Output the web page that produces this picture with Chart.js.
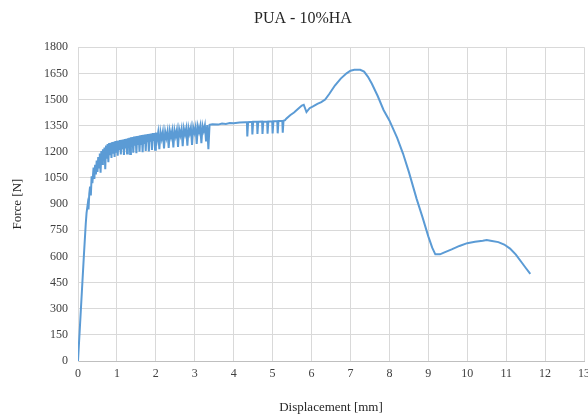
<!DOCTYPE html>
<html lang="en">
<head>
    <meta charset="UTF-8">
    <title>PUA - 10%HA</title>
    <script src="https://cdn.jsdelivr.net/npm/chart.js"></script>
    <style>
        body {
            margin: 0;
            padding: 0;
            overflow: hidden;
            background-color: #ffffff;
        }

        /* un poco más ancho que la ventana: el "13" queda cortado como en el original */
        #wrap {
            width: 596px;
            height: 415px;
        }
    </style>
</head>
<body>
    <div id="wrap"><canvas id="forceChart"></canvas></div>

    <script>
        // Desplazamiento [mm]
        const displacement = [
            0, 0.05, 0.1, 0.15, 0.2, 0.22, 0.25, 0.27, 0.29, 0.31, 0.33, 0.35, 0.37,
            0.40, 0.42, 0.44, 0.46, 0.48, 0.50, 0.52, 0.54, 0.56, 0.58,
            0.60, 0.62, 0.64, 0.66, 0.68, 0.70, 0.72, 0.74, 0.76, 0.78,
            0.80, 0.82, 0.84, 0.86, 0.88, 0.90, 0.92, 0.94, 0.96, 0.98,
            1.00, 1.02, 1.04, 1.06, 1.08, 1.10, 1.12, 1.14, 1.16, 1.18,
            1.20, 1.22, 1.24, 1.26, 1.28, 1.30, 1.32, 1.34, 1.36, 1.38,
            1.40, 1.42, 1.44, 1.46, 1.48, 1.50, 1.52, 1.54, 1.56, 1.58,
            1.60, 1.62, 1.64, 1.66, 1.68, 1.70, 1.72, 1.74, 1.76, 1.78,
            1.80, 1.82, 1.84, 1.86, 1.88, 1.90, 1.92, 1.94, 1.96, 1.98,
            2.00, 2.03, 2.06, 2.09, 2.12, 2.15, 2.18, 2.21, 2.24, 2.27,
            2.30, 2.33, 2.36, 2.39, 2.42, 2.45, 2.48, 2.51, 2.54, 2.57,
            2.60, 2.63, 2.66, 2.69, 2.72, 2.75, 2.78, 2.81, 2.84, 2.87,
            2.90, 2.93, 2.96, 2.99, 3.02, 3.05, 3.08, 3.11, 3.14, 3.17,
            3.20, 3.23, 3.26, 3.29, 3.32, 3.35, 3.38,
            3.45, 3.6, 3.7, 3.8, 3.9, 4.0, 4.15, 4.3,
            4.34, 4.35, 4.37, 4.47, 4.48, 4.50, 4.60, 4.61, 4.63,
            4.73, 4.74, 4.76, 4.86, 4.87, 4.89, 4.99, 5.00, 5.02,
            5.12, 5.13, 5.15, 5.25, 5.26, 5.28, 5.32,
            5.35, 5.45, 5.55, 5.65, 5.75, 5.8, 5.87, 5.95, 6.05, 6.15, 6.25, 6.35, 6.45, 6.6,
            6.75, 6.9, 7.0, 7.1, 7.25, 7.35, 7.45, 7.55, 7.7, 7.85, 8.0, 8.2, 8.35, 8.5, 8.7,
            8.85, 9.0, 9.1, 9.18, 9.3, 9.4, 9.6, 9.8, 10.0, 10.2, 10.4, 10.5, 10.6, 10.8, 10.95,
            11.1, 11.25, 11.4, 11.5, 11.62
        ];

        // Fuerza [N]
        const force = [
            0, 200, 400, 600, 790, 850, 900, 870, 960, 1000, 950, 1060, 1020,
            1110, 1045, 1125, 1070, 1150, 1085, 1170, 1110, 1190, 1080,
            1205, 1130, 1215, 1150, 1225, 1100, 1236, 1160, 1244, 1140,
            1250, 1180, 1252, 1165, 1256, 1195, 1258, 1170, 1261, 1200,
            1264, 1178, 1265, 1210, 1267, 1185, 1269, 1215, 1270, 1182,
            1273, 1220, 1275, 1190, 1278, 1225, 1280, 1188, 1283, 1230,
            1285, 1195, 1287, 1235, 1289, 1192, 1291, 1240, 1292, 1200,
            1294, 1245, 1296, 1198, 1298, 1250, 1299, 1205, 1301, 1255,
            1302, 1202, 1304, 1258, 1305, 1210, 1307, 1262, 1308, 1212,
            1310, 1268, 1311, 1215, 1313, 1275, 1314, 1220, 1316, 1280,
            1318, 1222, 1320, 1285, 1322, 1225, 1324, 1290, 1326, 1228,
            1329, 1295, 1331, 1232, 1333, 1300, 1335, 1235, 1337, 1305,
            1339, 1240, 1341, 1310, 1343, 1245, 1346, 1315, 1348, 1250,
            1350, 1320, 1352, 1260, 1353, 1215, 1355,
            1358, 1356, 1362, 1360, 1365, 1364, 1368, 1370,
            1370, 1288, 1370, 1372, 1300, 1372, 1372, 1302, 1372,
            1373, 1302, 1373, 1373, 1304, 1374, 1374, 1305, 1375,
            1375, 1306, 1376, 1376, 1310, 1378, 1382,
            1390, 1410, 1425, 1445, 1465, 1470, 1428, 1450, 1462, 1475, 1485, 1500, 1530, 1580,
            1620, 1650, 1665, 1670, 1670, 1660, 1630, 1590, 1520, 1440, 1380, 1280, 1190, 1085, 930,
            825, 715, 650, 612, 612, 622, 640, 660, 676, 684, 690, 694, 690, 682, 668,
            645, 610, 565, 535, 500
        ];

        const puntos = displacement.map((x, i) => ({ x: x, y: force[i] }));

        const serif = 'Liberation Serif';
        const gris = '#d9d9d9';

        const ctx = document.getElementById('forceChart').getContext('2d');
        new Chart(ctx, {
            type: 'scatter',
            data: {
                datasets: [{
                    label: 'PUA - 10%HA',
                    data: puntos,
                    showLine: true,
                    borderColor: '#5b9bd5',
                    backgroundColor: '#5b9bd5',
                    borderWidth: 2,
                    pointRadius: 0,
                    tension: 0
                }]
            },
            options: {
                responsive: true,
                maintainAspectRatio: false,
                animation: false,
                layout: {
                    padding: { left: 10, right: 0, top: 0, bottom: 0 }
                },
                plugins: {
                    legend: { display: false },
                    tooltip: { enabled: false },
                    title: {
                        display: true,
                        text: 'PUA - 10%HA',
                        color: '#262626',
                        font: { family: serif, size: 16, weight: 'normal' },
                        padding: { top: 9, bottom: 19 }
                    }
                },
                scales: {
                    x: {
                        type: 'linear',
                        min: 0,
                        max: 13,
                        afterFit: (scale) => { scale.height = 54; },
                        ticks: {
                            stepSize: 1,
                            padding: 6,
                            color: '#404040',
                            font: { family: serif, size: 12 }
                        },
                        grid: { color: gris, drawTicks: false },
                        border: { color: '#bfbfbf' },
                        title: {
                            display: true,
                            text: 'Displacement [mm]',
                            color: '#262626',
                            font: { family: serif, size: 13 },
                            padding: { top: 0, bottom: 0 }
                        }
                    },
                    y: {
                        min: 0,
                        max: 1800,
                        afterFit: (scale) => { scale.width = 68; },
                        ticks: {
                            stepSize: 150,
                            padding: 10,
                            color: '#404040',
                            font: { family: serif, size: 12 },
                            callback: (v) => String(v)
                        },
                        grid: { color: gris, drawTicks: false },
                        border: { color: gris },
                        title: {
                            display: true,
                            text: 'Force [N]',
                            color: '#262626',
                            font: { family: serif, size: 13 },
                            padding: 0
                        }
                    }
                }
            }
        });
    </script>
</body>
</html>
